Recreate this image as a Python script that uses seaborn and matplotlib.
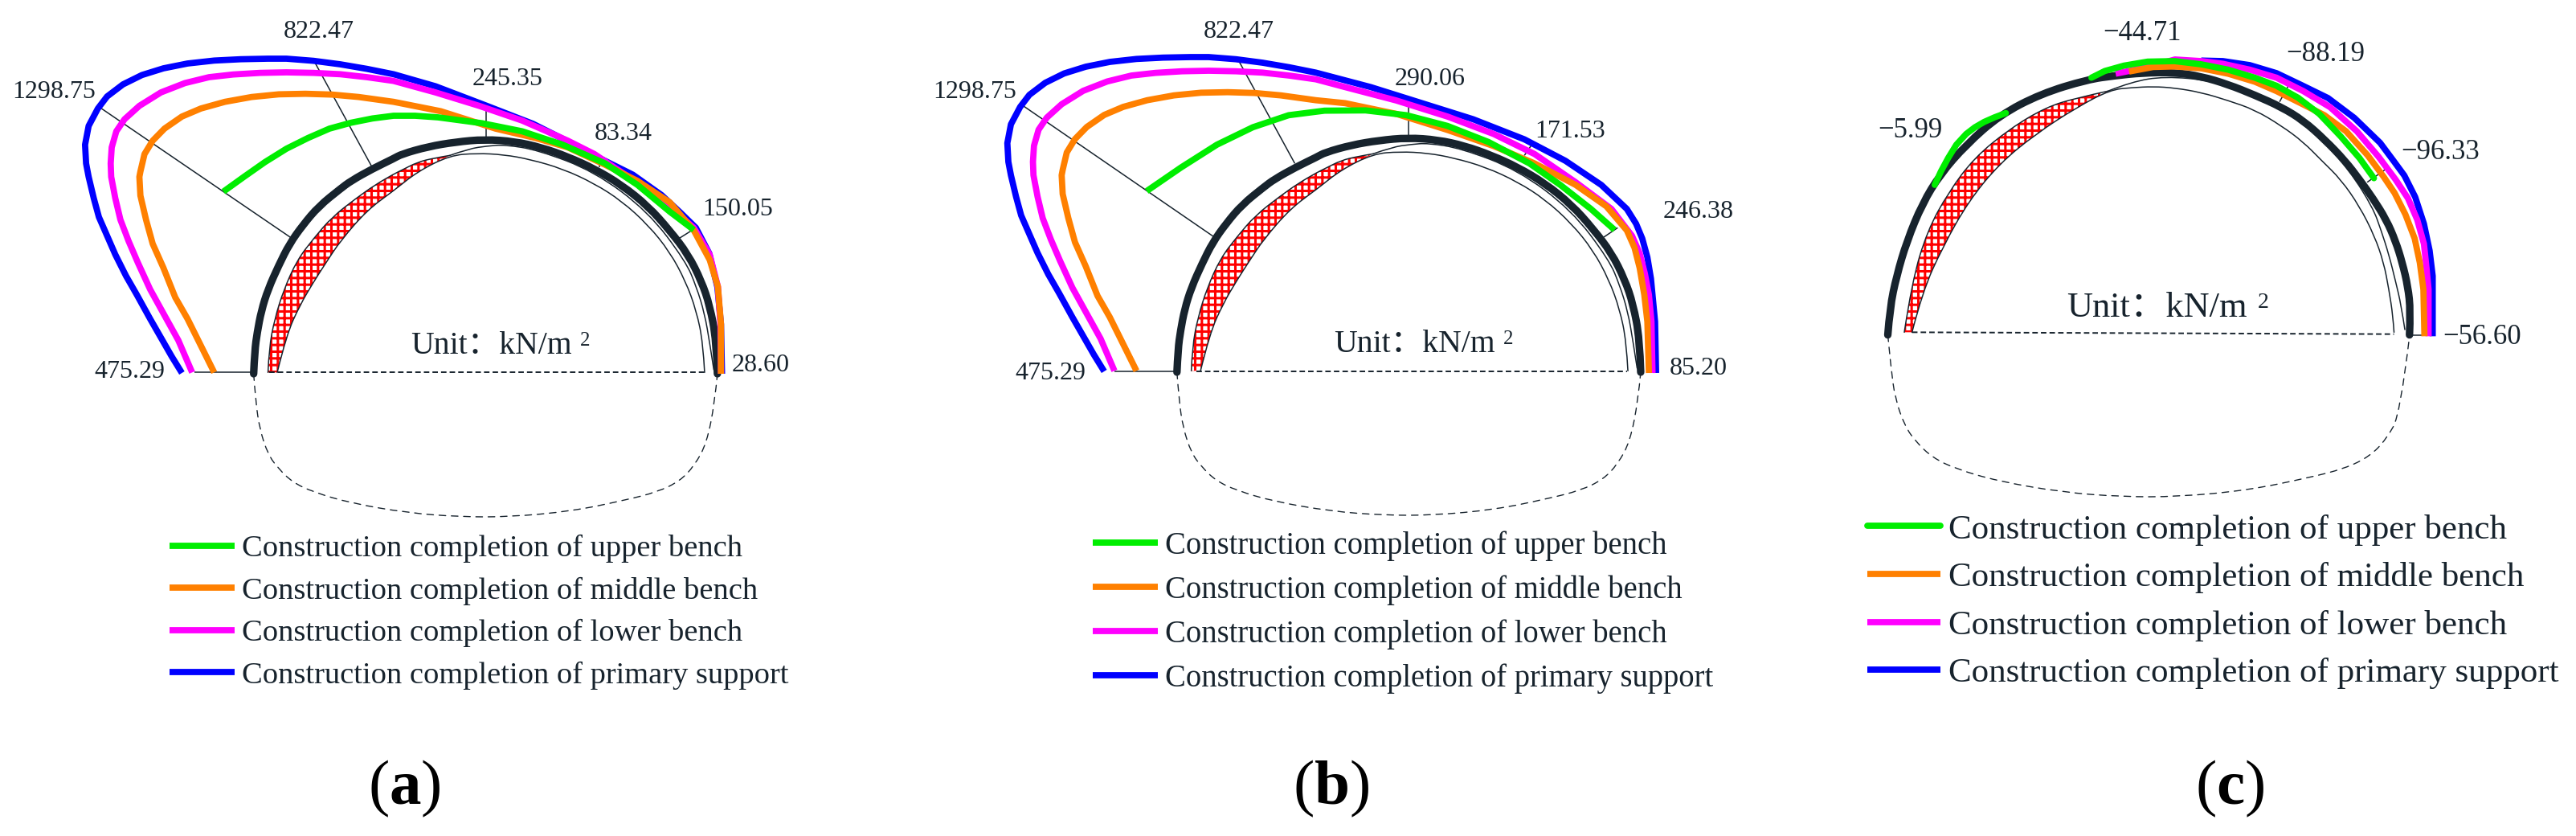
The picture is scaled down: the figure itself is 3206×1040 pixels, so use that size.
import matplotlib
matplotlib.use('Agg')
import matplotlib.pyplot as plt
from matplotlib.patches import PathPatch
from matplotlib.path import Path
import seaborn as sns

# all coordinates are read off the reference, each panel in its own drawing units
# order in the lists below: upper bench, middle bench, lower bench, primary support
STAGES = ['Construction completion of upper bench',
          'Construction completion of middle bench',
          'Construction completion of lower bench',
          'Construction completion of primary support']
COLORS = ['#00ee00', '#ff8000', '#ff00ff', '#0000ff']
INK = '#17232d'

# --- panel (a) ---
A_GREEN_X = [436, 476, 517, 559, 601, 643, 685, 727, 768, 810, 855, 941, 1019, 1098, 1181, 1244, 1307, 1354]
A_GREEN_Y = [715, 660, 605, 555, 515, 480, 458, 442, 432, 432, 438, 460, 490, 540, 610, 690, 790, 858]
# the left flanks repeat in panel (b), so they are kept apart from the right parts
A_ORANGE_LEFT_X = [418, 392, 366, 342, 319, 298, 285, 274, 272, 274, 282, 298, 321, 355, 392, 439, 491, 544, 596, 648, 700, 768]
A_ORANGE_LEFT_Y = [1390, 1290, 1190, 1110, 1000, 910, 820, 730, 660, 640, 575, 525, 480, 435, 405, 380, 362, 352, 350, 353, 362, 380]
A_ORANGE_RIGHT_X = [860, 967, 1045, 1108, 1181, 1244, 1307, 1354, 1385, 1401, 1407, 1407]
A_ORANGE_RIGHT_Y = [415, 480, 515, 550, 615, 675, 755, 860, 970, 1070, 1210, 1395]
A_MAGENTA_LEFT_X = [375, 348, 319, 293, 269, 251, 235, 225, 217, 216, 218, 227, 243, 272, 314, 361, 408, 455, 507, 559, 612, 664, 716, 768]
A_MAGENTA_LEFT_Y = [1390, 1270, 1170, 1080, 980, 900, 820, 740, 660, 610, 550, 490, 445, 395, 345, 310, 288, 278, 272, 270, 272, 277, 288, 302]
A_MAGENTA_RIGHT_X = [850, 935, 1019, 1061, 1108, 1160, 1281, 1354, 1385, 1401, 1406, 1407]
A_MAGENTA_RIGHT_Y = [345, 395, 450, 485, 525, 575, 730, 850, 950, 1070, 1210, 1395]
A_BLUE_LEFT_X = [355, 335, 314, 293, 267, 246, 225, 209, 193, 183, 173, 168, 166, 173, 191, 209, 240, 277, 319, 366, 418, 470, 523, 559, 612, 664, 716, 768]
A_BLUE_LEFT_Y = [1392, 1330, 1260, 1190, 1100, 1030, 950, 880, 810, 740, 660, 610, 540, 470, 405, 360, 315, 280, 255, 237, 226, 221, 219, 219, 227, 240, 257, 277]
A_BLUE_RIGHT_X = [850, 950, 1040, 1092, 1172, 1235, 1291, 1327, 1358, 1384, 1400, 1407, 1409]
A_BLUE_RIGHT_Y = [322, 395, 462, 512, 592, 652, 728, 792, 850, 945, 1072, 1210, 1395]
A_RED_OUT_X = [523, 525, 536, 554, 580, 612, 648, 695, 732, 768, 784, 815, 847, 878]
A_RED_OUT_Y = [1390, 1300, 1190, 1080, 970, 890, 810, 740, 690, 650, 635, 605, 590, 580]
A_RED_IN_X = [878, 847, 815, 784, 768, 716, 690, 664, 638, 611, 585, 559, 541]
A_RED_IN_Y = [580, 610, 640, 690, 712, 785, 845, 900, 975, 1055, 1140, 1250, 1390]
A_THIN1_X = [878, 915, 951, 985, 1050, 1160, 1265, 1338, 1359, 1375, 1385, 1393]
A_THIN1_Y = [580, 555, 545, 540, 560, 640, 790, 975, 1070, 1170, 1280, 1380]
A_THIN2_X = [541, 559, 585, 611, 638, 664, 716, 768, 815, 878, 930, 983, 1035, 1098, 1160, 1213, 1265, 1307, 1338, 1359, 1372, 1375]
A_THIN2_Y = [1390, 1250, 1140, 1055, 975, 900, 785, 712, 640, 580, 572, 577, 595, 630, 685, 750, 840, 940, 1050, 1160, 1280, 1390]
A_LEADER_X0 = [198, 615, 948, 1170, 1350]
A_LEADER_Y0 = [405, 235, 405, 590, 860]
A_LEADER_X1 = [570, 725, 948, 1170, 1325]
A_LEADER_Y1 = [890, 620, 510, 625, 890]
A_LABELS = ['1298.75', '822.47', '245.35', '83.34', '150.05', '475.29', '28.60']
A_LABEL_X = [105, 622, 990, 1217, 1440, 253, 1485]
A_LABEL_Y = [345, 118, 297, 500, 783, 1388, 1362]

# --- panel (b) ---
B_LEFT_SHIFT_X = 75
B_LEFT_SHIFT_Y = -6
B_GREEN_X = [513, 580, 650, 720, 790, 860, 940, 1020, 1100, 1180, 1260, 1320, 1380, 1426]
B_GREEN_Y = [713, 625, 540, 475, 430, 413, 412, 430, 470, 530, 610, 690, 780, 858]
B_ORANGE_RIGHT_X = [900, 1000, 1100, 1190, 1270, 1350, 1410, 1450, 1465, 1475, 1484, 1490, 1493]
B_ORANGE_RIGHT_Y = [385, 425, 485, 545, 610, 690, 770, 860, 925, 1000, 1100, 1200, 1392]
B_MAGENTA_RIGHT_X = [900, 1000, 1100, 1190, 1270, 1350, 1420, 1460, 1475, 1485, 1493, 1498, 1500]
B_MAGENTA_RIGHT_Y = [325, 375, 435, 500, 575, 680, 780, 880, 945, 1020, 1100, 1200, 1392]
B_BLUE_RIGHT_X = [950, 1050, 1150, 1250, 1330, 1400, 1450, 1468, 1480, 1490, 1497, 1505, 1507]
B_BLUE_RIGHT_Y = [325, 385, 445, 520, 600, 690, 780, 835, 890, 960, 1040, 1200, 1392]
B_LEADER_X0 = [272, 692, 1024, 1268, 1432]
B_LEADER_Y0 = [395, 225, 395, 530, 850]
B_LEADER_X1 = [645, 802, 1024, 1250, 1405]
B_LEADER_Y1 = [885, 610, 505, 580, 885]
B_LABELS = ['1298.75', '822.47', '290.06', '171.53', '246.38', '475.29', '85.20']
B_LABEL_X = [178, 693, 1066, 1340, 1590, 325, 1590]
B_LABEL_Y = [345, 118, 297, 490, 790, 1395, 1375]

# panel (b) sits on the same arch as panel (a), shifted by this much
B_SHIFT_X = 77
B_SHIFT_Y = -6

# arch shared by (a) and (b)
ARCH_X = [495, 497, 502, 510, 523, 544, 565, 591, 622, 664, 685, 727, 768, 784, 836, 889, 946, 1004, 1056, 1108, 1160, 1213,
          1265, 1307, 1343, 1369, 1385, 1398, 1400]
ARCH_Y = [1395, 1310, 1240, 1160, 1080, 990, 910, 840, 770, 705, 675, 630, 592, 575, 547, 530, 520, 528, 550, 585, 630, 690,
          770, 860, 950, 1050, 1140, 1270, 1395]
BOTTOM_X = [495, 499, 507, 523, 543, 571, 611, 683, 795, 899, 995, 1115, 1219, 1283, 1327, 1355, 1379, 1395, 1400]
BOTTOM_Y = [1395, 1500, 1603, 1696, 1748, 1800, 1836, 1877, 1914, 1929, 1929, 1908, 1867, 1836, 1795, 1738, 1655, 1500, 1395]

# --- panel (c) ---
C_GREEN1_X = [324, 336, 350, 366, 385, 402, 420, 440, 462]
C_GREEN1_Y = [690, 640, 590, 540, 500, 475, 455, 438, 422]
C_GREEN2_X = [628, 654, 691, 737, 789, 841, 893, 945, 987, 1029, 1070, 1112, 1148, 1176]
C_GREEN2_Y = [290, 265, 245, 230, 228, 240, 260, 290, 320, 365, 425, 510, 590, 665]
C_ORANGE_X = [701, 748, 789, 841, 893, 945, 987, 1039, 1080, 1122, 1164, 1195, 1216, 1237, 1255, 1265, 1272, 1274]
C_ORANGE_Y = [267, 250, 248, 255, 275, 305, 340, 390, 430, 490, 580, 660, 720, 800, 890, 980, 1080, 1255]
C_MAGENTA_X = [675, 701, 737, 790, 841, 883, 935, 987, 1039, 1091, 1143, 1185, 1218, 1242, 1260, 1273, 1278, 1282, 1282]
C_MAGENTA_Y = [275, 265, 250, 222, 228, 238, 260, 290, 340, 400, 490, 585, 670, 740, 820, 910, 1000, 1080, 1255]
C_BLUE_X = [841, 883, 935, 987, 1036, 1087, 1138, 1188, 1214, 1235, 1256, 1273, 1284, 1290, 1290]
C_BLUE_Y = [226, 228, 243, 273, 318, 366, 440, 533, 600, 655, 735, 835, 935, 1030, 1255]
C_ARCH_X = [233, 237, 250, 270, 300, 335, 385, 450, 530, 620, 675, 727, 789, 841, 893, 945, 997, 1039, 1080, 1120, 1148,
            1174, 1200, 1218, 1231, 1242, 1247, 1245]
C_ARCH_Y = [1250, 1150, 1030, 900, 760, 650, 540, 430, 350, 297, 282, 272, 270, 285, 315, 355, 400, 450, 520, 600, 670,
            740, 820, 900, 980, 1070, 1160, 1250]
C_RED_OUT_X = [265, 280, 310, 350, 400, 470, 540, 600, 660]
C_RED_OUT_Y = [1240, 1050, 860, 720, 590, 480, 400, 365, 340]
C_RED_IN_X = [660, 600, 520, 450, 390, 340, 300, 280]
C_RED_IN_Y = [340, 400, 500, 610, 750, 920, 1090, 1240]
C_THIN1_X = [660, 706, 770, 860, 960, 1060, 1130, 1174, 1190, 1205, 1218, 1229, 1236]
C_THIN1_Y = [340, 305, 285, 300, 360, 480, 640, 775, 860, 950, 1050, 1140, 1230]
C_THIN2_X = [280, 300, 340, 390, 450, 520, 600, 665, 706, 748, 789, 841, 893, 945, 997, 1039, 1075, 1112, 1148, 1177, 1195,
             1205, 1213, 1215]
C_THIN2_Y = [1240, 1090, 920, 750, 610, 500, 400, 335, 327, 323, 328, 345, 375, 410, 470, 530, 600, 670, 770, 880, 980,
             1080, 1180, 1240]
C_BOTTOM_X = [233, 239, 247, 266, 288, 320, 364, 445, 571, 687, 795, 930, 1047, 1119, 1168, 1200, 1227, 1245]
C_BOTTOM_Y = [1250, 1370, 1486, 1590, 1650, 1708, 1749, 1795, 1837, 1854, 1854, 1830, 1784, 1749, 1703, 1639, 1546, 1255]
C_LEADER_X0 = [740, 1017, 1200]
C_LEADER_Y0 = [225, 295, 630]
C_LEADER_X1 = [740, 993, 1163]
C_LEADER_Y1 = [265, 380, 680]
C_LABELS = ['\u22125.99', '\u221244.71', '\u221288.19', '\u221296.33', '\u221256.60']
C_LABEL_X = [277, 727, 1082, 1305, 1385]
C_LABEL_Y = [487, 123, 203, 568, 1258]

LINE_W = 5.6
THIN_W = 1.1


def shift(vals, d):
    return [v + d for v in vals]


def curve(ax, xs, ys, color, lw=LINE_W, label=None, **kws):
    kws.setdefault('solid_capstyle', 'butt')
    sns.lineplot(x=xs, y=ys, color=color, linewidth=lw, sort=False, estimator=None,
                 errorbar=None, legend=False, label=label, ax=ax, **kws)


def smooth_path(xs, ys):
    # read points act as control points of quadratic segments, no extra data
    verts = [(xs[0], ys[0])]
    codes = [Path.MOVETO]
    for i in range(1, len(xs) - 1):
        if i == len(xs) - 2:
            end = (xs[-1], ys[-1])
        else:
            end = ((xs[i] + xs[i + 1]) / 2, (ys[i] + ys[i + 1]) / 2)
        verts += [(xs[i], ys[i]), end]
        codes += [Path.CURVE3, Path.CURVE3]
    return verts, codes


def smooth(ax, xs, ys, lw, ls='-'):
    verts, codes = smooth_path(xs, ys)
    ax.add_patch(PathPatch(Path(verts, codes), fill=False, edgecolor=INK, linewidth=lw,
                           linestyle=ls, capstyle='round'))


def tunnel(ax, arch, red_out, red_in, thin1, thin2, bottom, base):
    v1, c1 = smooth_path(*red_out)
    v2, c2 = smooth_path(*red_in)
    ax.add_patch(PathPatch(Path(v1 + v2, c1 + [Path.LINETO] + c2[1:]), facecolor='white',
                           edgecolor='red', hatch='++', linewidth=0))
    smooth(ax, red_out[0], red_out[1], THIN_W)
    smooth(ax, thin1[0], thin1[1], THIN_W)
    smooth(ax, thin2[0], thin2[1], THIN_W)
    curve(ax, base[0], base[1], INK, 1.4, linestyle=(0, (3.5, 2)))
    smooth(ax, bottom[0], bottom[1], 1.0, (0, (6, 5)))
    smooth(ax, arch[0], arch[1], 6.7)


def leaders(ax, x0, y0, x1, y1):
    for a, b, c, d in zip(x0, y0, x1, y1):
        curve(ax, [a, c], [b, d], INK, THIN_W)


def labels(ax, names, xs, ys, size):
    for name, x, y in zip(names, xs, ys):
        ax.text(x, y, name, ha='center', va='center', fontsize=size, color=INK)


def finish(ax, width, unit_x, unit_y, unit_size, sup_x, sup_y, sup_size, legend_x, legend_y, legend_size, spacing,
           handle_pt, letter, letter_x):
    ax.text(unit_x, unit_y, 'Unit\uff1akN/m', ha='left', va='baseline', fontsize=unit_size, color=INK)
    ax.text(sup_x, sup_y, '2', ha='left', va='baseline', fontsize=sup_size, color=INK)
    handles, names = ax.get_legend_handles_labels()
    leg = ax.legend(handles[::-1], names[::-1], loc='center left', bbox_to_anchor=(legend_x, legend_y),
                    bbox_transform=ax.transData, frameon=False, fontsize=legend_size, borderpad=0,
                    borderaxespad=0, handlelength=handle_pt / legend_size, handletextpad=0.23, labelspacing=spacing)
    for t in leg.get_texts():
        t.set_color(INK)
    ax.text(letter_x, 2943, letter, ha='center', va='center', fontsize=57, color='black')
    ax.set_xlim(0, width)
    ax.set_ylim(3120, 0)
    ax.axis('off')


sns.set_theme(style='white')
plt.rcParams['font.family'] = ['Liberation Serif', 'Noto Sans CJK SC']
plt.rcParams['mathtext.fontset'] = 'custom'
plt.rcParams['mathtext.rm'] = 'Liberation Serif'
plt.rcParams['mathtext.bf'] = 'Liberation Serif:bold'
plt.rcParams['hatch.linewidth'] = 2.2

fig = plt.figure(figsize=(32.06, 10.4), dpi=100)
ax_a = fig.add_axes([0, 0, 1100 / 3206, 1])
ax_b = fig.add_axes([1100 / 3206, 0, 1100 / 3206, 1])
ax_c = fig.add_axes([2200 / 3206, 0, 1006 / 3206, 1])

# (a)
tunnel(ax_a, (ARCH_X, ARCH_Y), (A_RED_OUT_X, A_RED_OUT_Y), (A_RED_IN_X, A_RED_IN_Y), (A_THIN1_X, A_THIN1_Y),
       (A_THIN2_X, A_THIN2_Y), (BOTTOM_X, BOTTOM_Y), ([525, 1375], [1388, 1388]))
curve(ax_a, [380, 494], [1388, 1388], INK, THIN_W)
leaders(ax_a, A_LEADER_X0, A_LEADER_Y0, A_LEADER_X1, A_LEADER_Y1)
curve(ax_a, A_BLUE_LEFT_X + A_BLUE_RIGHT_X, A_BLUE_LEFT_Y + A_BLUE_RIGHT_Y, COLORS[3], label=STAGES[3])
curve(ax_a, A_MAGENTA_LEFT_X + A_MAGENTA_RIGHT_X, A_MAGENTA_LEFT_Y + A_MAGENTA_RIGHT_Y, COLORS[2], label=STAGES[2])
curve(ax_a, A_ORANGE_LEFT_X + A_ORANGE_RIGHT_X, A_ORANGE_LEFT_Y + A_ORANGE_RIGHT_Y, COLORS[1], label=STAGES[1])
curve(ax_a, A_GREEN_X, A_GREEN_Y, COLORS[0], label=STAGES[0])
labels(ax_a, A_LABELS, A_LABEL_X, A_LABEL_Y, 23)
finish(ax_a, 1724.8, 802, 1320, 28.5, 1132, 1290, 18, 331, 2284, 27.7, 0.45, 58, r'($\mathbf{a}$)', 789)

# (b)
tunnel(ax_b, (shift(ARCH_X, B_SHIFT_X), shift(ARCH_Y, B_SHIFT_Y)),
       (shift(A_RED_OUT_X, B_SHIFT_X), shift(A_RED_OUT_Y, B_SHIFT_Y)),
       (shift(A_RED_IN_X, B_SHIFT_X), shift(A_RED_IN_Y, B_SHIFT_Y)),
       (shift(A_THIN1_X, B_SHIFT_X), shift(A_THIN1_Y, B_SHIFT_Y)),
       (shift(A_THIN2_X, B_SHIFT_X), shift(A_THIN2_Y, B_SHIFT_Y)),
       (shift(BOTTOM_X, B_SHIFT_X), shift(BOTTOM_Y, B_SHIFT_Y)), ([610, 1450], [1385, 1385]))
curve(ax_b, [450, 570], [1385, 1385], INK, THIN_W)
leaders(ax_b, B_LEADER_X0, B_LEADER_Y0, B_LEADER_X1, B_LEADER_Y1)
curve(ax_b, shift(A_BLUE_LEFT_X, B_LEFT_SHIFT_X) + B_BLUE_RIGHT_X, shift(A_BLUE_LEFT_Y, B_LEFT_SHIFT_Y) + B_BLUE_RIGHT_Y,
      COLORS[3], label=STAGES[3])
curve(ax_b, shift(A_MAGENTA_LEFT_X, B_LEFT_SHIFT_X) + B_MAGENTA_RIGHT_X,
      shift(A_MAGENTA_LEFT_Y, B_LEFT_SHIFT_Y) + B_MAGENTA_RIGHT_Y, COLORS[2], label=STAGES[2])
curve(ax_b, shift(A_ORANGE_LEFT_X, B_LEFT_SHIFT_X) + B_ORANGE_RIGHT_X,
      shift(A_ORANGE_LEFT_Y, B_LEFT_SHIFT_Y) + B_ORANGE_RIGHT_Y, COLORS[1], label=STAGES[1])
curve(ax_b, B_GREEN_X, B_GREEN_Y, COLORS[0], label=STAGES[0])
labels(ax_b, B_LABELS, B_LABEL_X, B_LABEL_Y, 23)
finish(ax_b, 1724.8, 879, 1314, 28.5, 1209, 1284, 18, 408, 2284, 27.8, 0.45, 58, r'($\mathbf{b}$)', 873)

# (c)
tunnel(ax_c, (C_ARCH_X, C_ARCH_Y), (C_RED_OUT_X, C_RED_OUT_Y), (C_RED_IN_X, C_RED_IN_Y), (C_THIN1_X, C_THIN1_Y),
       (C_THIN2_X, C_THIN2_Y), (C_BOTTOM_X, C_BOTTOM_Y), ([280, 1215], [1240, 1247]))
curve(ax_c, [1245, 1295], [1252, 1252], INK, THIN_W)
leaders(ax_c, C_LEADER_X0, C_LEADER_Y0, C_LEADER_X1, C_LEADER_Y1)
curve(ax_c, C_BLUE_X, C_BLUE_Y, COLORS[3], label=STAGES[3])
curve(ax_c, C_MAGENTA_X, C_MAGENTA_Y, COLORS[2], label=STAGES[2])
curve(ax_c, C_ORANGE_X, C_ORANGE_Y, COLORS[1], label=STAGES[1])
curve(ax_c, C_GREEN2_X, C_GREEN2_Y, COLORS[0], label=STAGES[0], solid_capstyle='round')
curve(ax_c, C_GREEN1_X, C_GREEN1_Y, COLORS[0], solid_capstyle='round')
labels(ax_c, C_LABELS, C_LABEL_X, C_LABEL_Y, 25)
finish(ax_c, 1568, 580, 1183, 32, 950, 1150, 20, 193, 2245, 31, 0.475, 66, r'($\mathbf{c}$)', 896)

fig.savefig('out.png', dpi=100)
plt.close(fig)
